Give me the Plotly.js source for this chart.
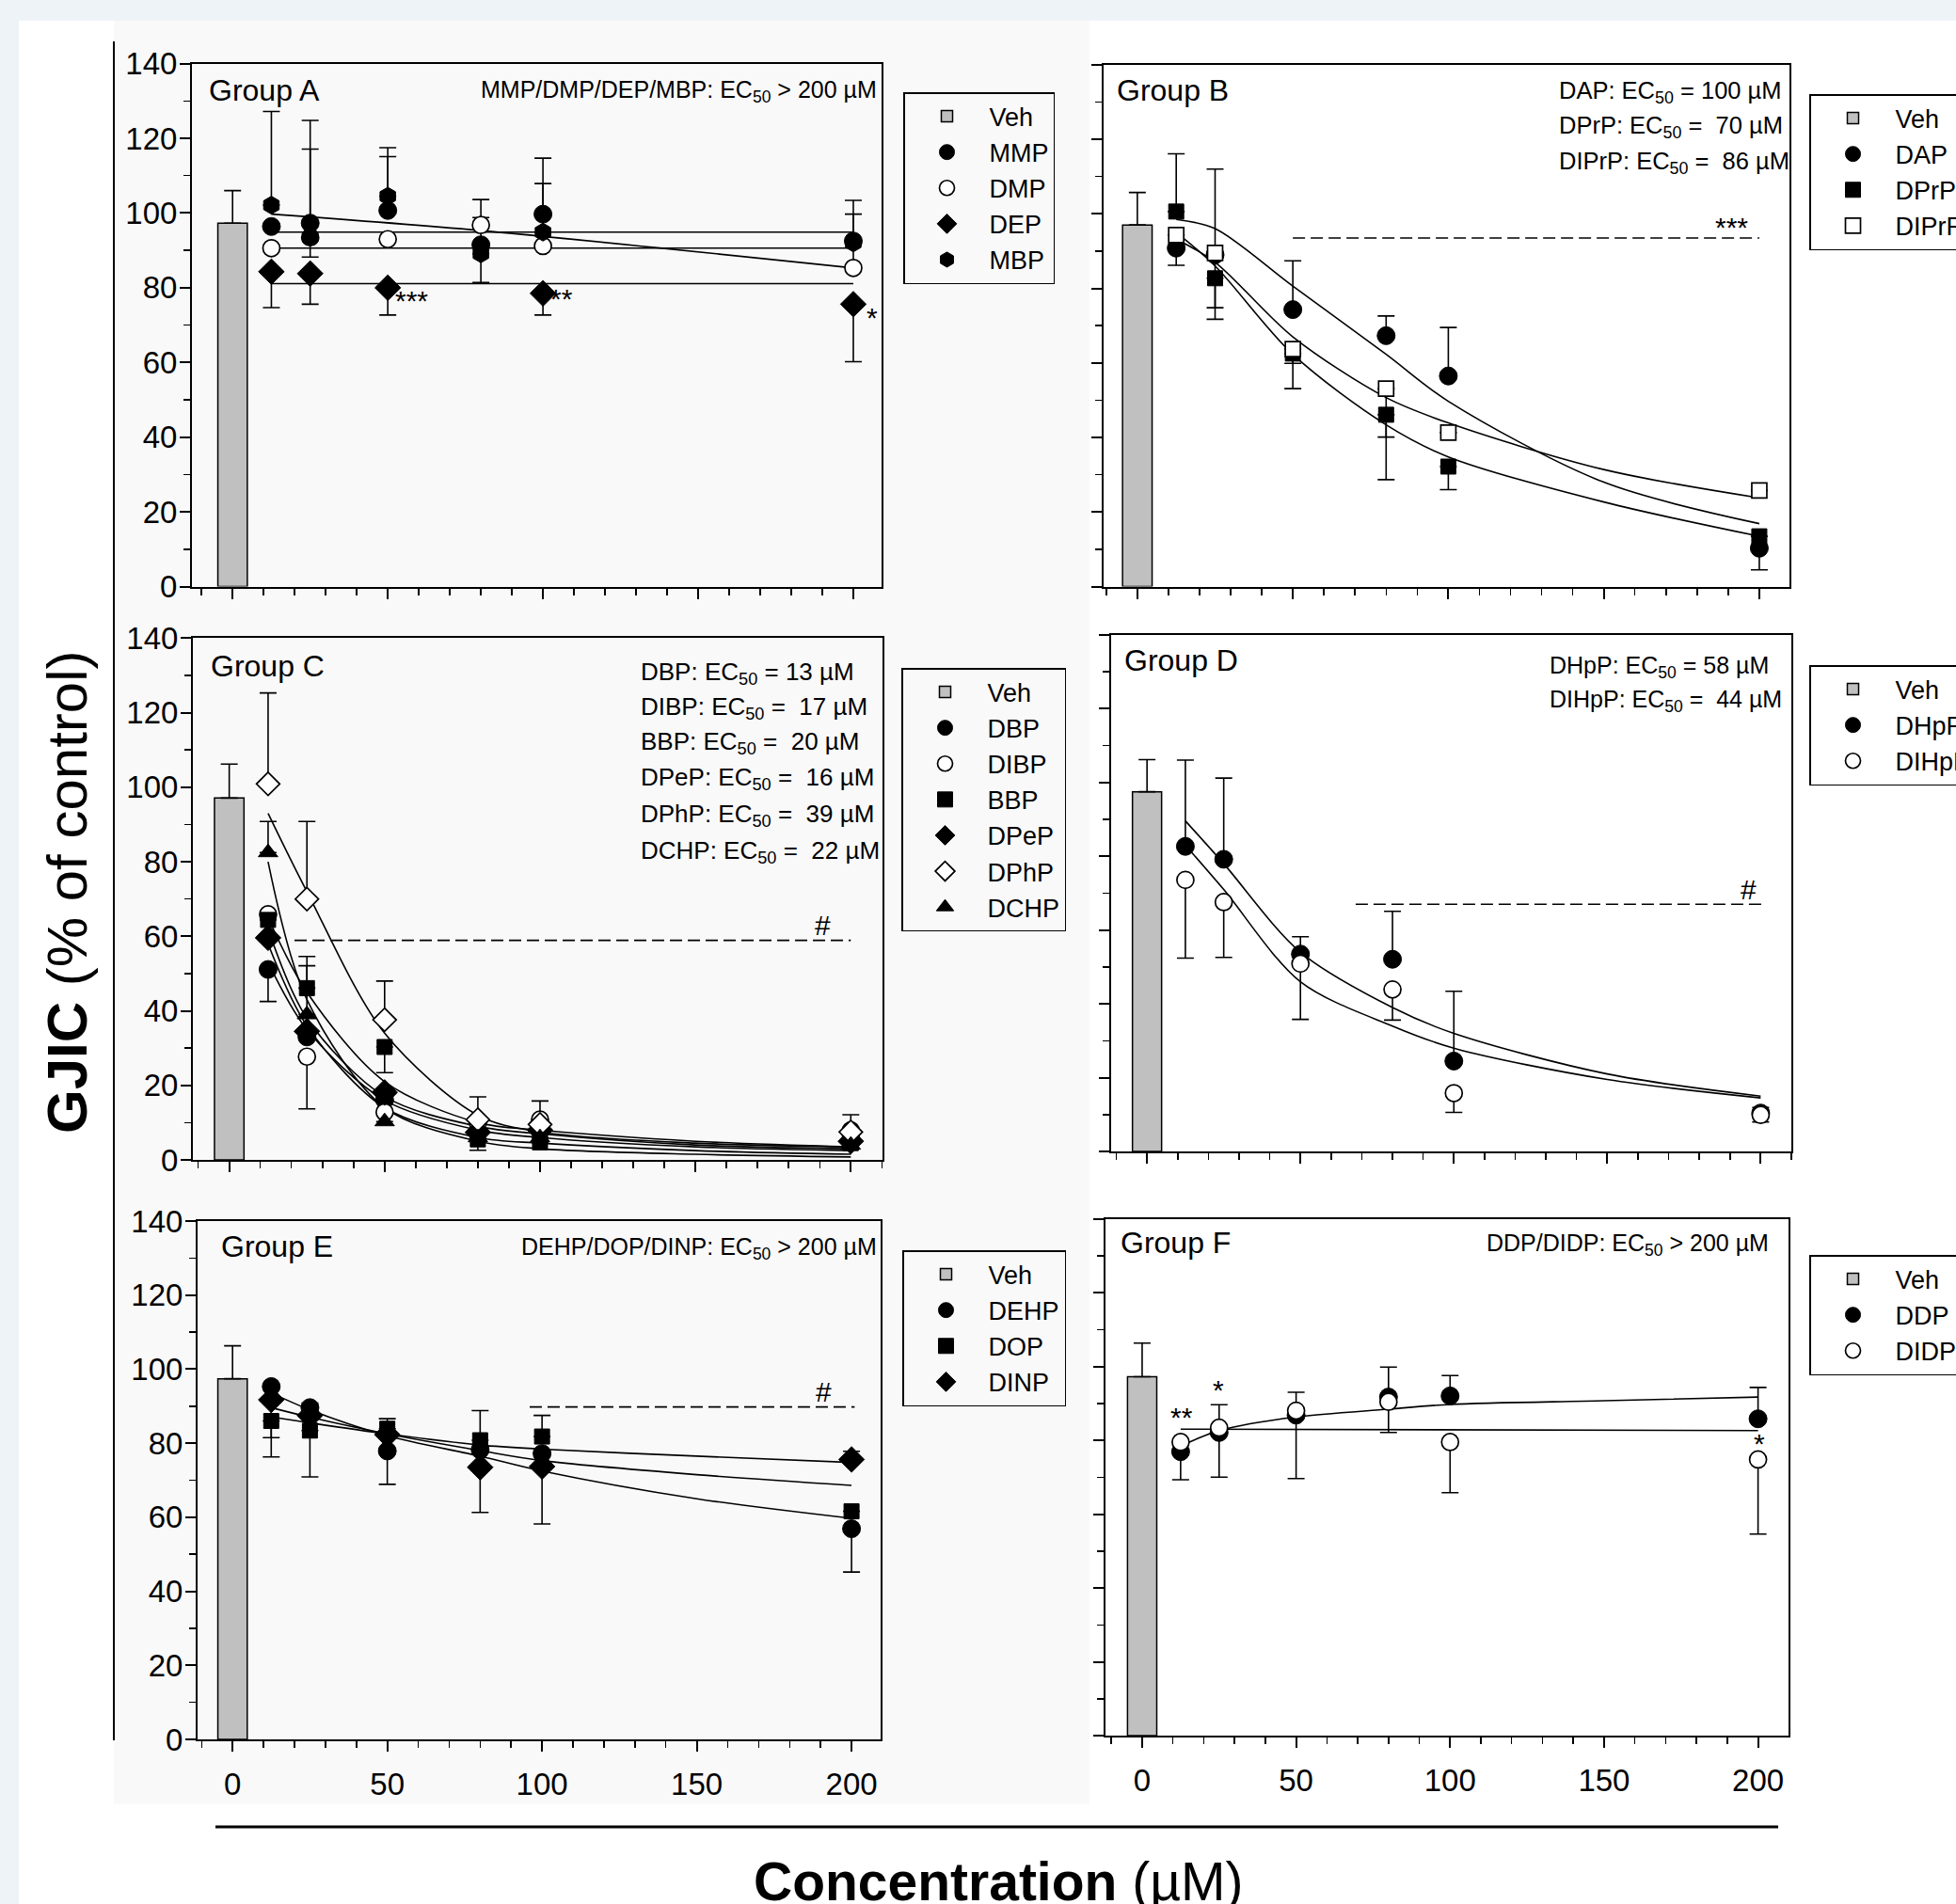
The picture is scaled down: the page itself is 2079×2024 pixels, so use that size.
<!DOCTYPE html>
<html><head><meta charset="utf-8">
<script src="https://cdn.plot.ly/plotly-3.0.1.min.js"></script>
<style>html,body{margin:0;padding:0;background:#fff;}#chart{width:2079px;height:2024px;}</style>
</head><body><div id="chart"></div>
<script>
// ---------------- data ----------------
const conc = [12.5, 25, 50, 80, 100, 200];
const fitX = [12.5, 25, 50, 80, 100, 150, 200];
const vehX = [0];

// Group A
const vehA = [97.3], vehAUp = [8.7];
const mmpY = [96.4, 97.3, 100.7, 91.5, 99.7, 92.5], mmpUp = [0, 27.5, 14.4, 7.3, 15, 10.9], mmpDn = [0, 0, 0, 0, 0, 0];
const dmpY = [90.6, 93.5, 93.0, 96.8, 91.2, 85.3], dmpUp = [0, 0, 0, 6.8, 0, 14.4], dmpDn = [0, 5.3, 0, 0, 0, 0];
const depY = [84.3, 83.8, 80.0, null, 78.5, 75.6], depUp = [0, 0, 0, 0, 0, 0], depDn = [9.6, 8.2, 7.3, 0, 5.8, 15.4];
const mbpY = [102.1, 93.5, 104.5, 89.1, 94.9, 92.0], mbpUp = [25.1, 23.6, 13.0, 0, 13.0, 0], mbpDn = [0, 0, 0, 7.7, 0, 0];
const fitA1X = [12.5, 80, 200], fitA1 = [99.7, 95.3, 85.3];
const fitFlatX = [12.5, 200];
const fitA2 = [94.9, 94.9], fitA3 = [90.6, 90.6], fitA4 = [81.1, 81.1];

// Group B
const vehB = [97.0], vehBUp = [8.7];
const dapY = [90.8, 89.0, 74.3, 67.3, 56.5, 10.3], dapUp = [0, 0, 13.1, 5.3, 13.0, 0], dapDn = [4.6, 14.2, 0, 0, 0, 5.8];
const dprpY = [100.6, 82.7, 62.5, 46.1, 32.2, 13.5], dprpUp = [15.5, 0, 0, 0, 0, 0], dprpDn = [0, 11.0, 9.4, 17.4, 6.2, 0];
const diprpY = [94.3, 89.5, 63.7, 53.1, 41.3, 25.8], diprpUp = [0, 22.5, 0, 0, 0, 0], diprpDn = [0, 0, 3.8, 13.0, 0, 0];
const fitDAP = [98.5, 96, 80.6, 62.3, 49.7, 28, 16.9];
const fitDPrP = [95, 86, 62.3, 43.4, 34.8, 22.7, 13.5];
const fitDIPrP = [93.2, 87, 67, 50.7, 43.9, 31.4, 23.8];
const dashBX = [50, 200], dashBY = [93.5, 93.5];

// Group C
const vehC = [97.1], vehCUp = [9.1];
const dbpY = [51.1, 33.0, 16.1, 7.4, 8.4, 7.0], dbpUp = [0, 0, 0, 0, 0, 0], dbpDn = [8.6, 0, 0, 0, 0, 0];
const dibpY = [65.9, 27.7, 12.8, 10.0, 10.8, 7.9], dibpUp = [0, 0, 0, 0, 5.0, 4.2], dibpDn = [0, 14.0, 0, 0, 0, 0];
const bbpY = [64.4, 46.1, 30.3, 5.5, 4.7, 4.5], bbpUp = [0, 8.5, 0, 0, 0, 0], bbpDn = [0, 0, 6.9, 2.9, 0, 0];
const depeY = [59.6, 34.5, 18.1, 7.4, 8.0, 5.0], depeUp = [0, 0, 0, 0, 0, 0], depeDn = [0, 0, 0, 0, 0, 0];
const dphpY = [100.9, 70.0, 37.6, 10.8, 9.5, 7.5], dphpUp = [24.4, 20.8, 10.4, 6.1, 0, 0], dphpDn = [0, 0, 0, 0, 0, 0];
const dchpY = [82.5, 39.0, 10.3, 6.0, 6.0, 4.0], dchpUp = [8.3, 13.1, 0, 0, 0, 0], dchpDn = [0, 0, 0, 0, 0, 0];
const fitDBP = [53, 35, 16, 8, 6, 3.5, 2.5];
const fitDIBP = [62, 38, 17, 9, 7, 4, 3];
const fitBBP = [65, 45, 21, 10, 8, 5, 3.5];
const fitDPeP = [58, 36, 14, 6, 4.5, 2.5, 1.5];
const fitDPhP = [93, 72, 34, 12, 7.5, 4.5, 3.5];
const fitDCHP = [80, 43, 14, 5, 3, 1.5, 0.8];
const dashCX = [21, 200], dashCY = [58.9, 58.9];

// Group D
const vehD = [97.5], vehDUp = [8.7];
const dhppY = [82.7, 79.2, 53.5, 52.1, 24.5, 10.4], dhppUp = [23.4, 22.0, 4.7, 13.0, 18.9, 1.5], dhppDn = [0, 0, 0, 0, 0, 0];
const dihppY = [73.6, 67.6, 50.9, 43.9, 15.8, 9.9], dihppUp = [0, 0, 0, 0, 0, 0], dihppDn = [21.2, 15.0, 15.1, 8.3, 5.2, 1.9];
const fitDHpP = [89.6, 78, 54, 39, 32, 21, 15];
const fitDIHpP = [83, 71, 46, 34, 28, 19.5, 14.5];
const dashDX = [68, 202], dashDY = [67, 67];

// Group E
const vehE = [97.4], vehEUp = [8.9];
const dehpY = [95.3, 89.6, 77.9, 78.2, 77.2, 56.9], dehpUp = [0, 1.2, 0, 0, 0, 0], dehpDn = [0, 0, 9.0, 0, 0, 11.7];
const dopY = [86.0, 83.4, 83.9, 80.8, 81.8, 61.6], dopUp = [0, 0, 2.7, 8.0, 5.7, 0], dopDn = [4.5, 12.5, 0, 0, 0, 0];
const dinpY = [91.7, 87.5, 82.3, 73.5, 73.7, 75.6], dinpUp = [0, 0, 0, 0, 0, 2.2], dinpDn = [15.4, 0, 0, 12.2, 15.5, 0];
const fitDEHP = [93.6, 89, 82, 76.5, 72.5, 65, 59.7];
const fitDOP = [89.6, 87, 82.5, 78, 75.3, 71.5, 68.6];
const fitDINP = [87.1, 85.5, 82.5, 79.5, 78.4, 76.5, 74.8];
const dashEX = [96, 201], dashEY = [89.8, 89.8];

// Group F
const vehF = [97.2], vehFUp = [9.1];
const ddpY = [76.9, 82.1, 86.8, 91.7, 92.0, 85.8], ddpUp = [0, 7.5, 6.2, 8.1, 5.5, 8.5], ddpDn = [7.6, 0, 0, 0, 0, 0];
const didpY = [79.5, 83.4, 88.0, 90.4, 79.5, 74.8], didpUp = [0, 0, 0, 0, 0, 0], didpDn = [0, 13.4, 18.4, 8.3, 13.7, 20.2];
const fitDDP = [78.4, 82.6, 86.3, 88.4, 89.7, 90.7, 91.7];
const fitDIDP = [83, 82.6];

// ---------------- helpers ----------------
const FONT = 'Liberation Sans, Arial, Helvetica, sans-serif';
const W = 2079, H = 2024;
const px = v => v / W, py = v => 1 - v / H;

function veh(y, up, n, lg) {
  return {type: 'bar', name: 'Veh', x: vehX, y: y, width: [9.5], xaxis: 'x' + n, yaxis: 'y' + n, legend: lg,
    marker: {color: '#c0c0c0', line: {color: 'black', width: 1.5}},
    error_y: {type: 'data', symmetric: false, array: up, arrayminus: [0], color: 'black', thickness: 1.6, width: 9},
    hoverinfo: 'skip'};
}
function pts(name, y, up, dn, sym, fill, size, n, lg) {
  return {type: 'scatter', mode: 'markers', name: name, x: conc, y: y, xaxis: 'x' + n, yaxis: 'y' + n, legend: lg,
    marker: {symbol: sym, color: fill, size: size, line: {color: 'black', width: fill === 'white' ? 1.7 : 1}},
    error_y: {type: 'data', symmetric: false, array: up, arrayminus: dn, color: 'black', thickness: 1.6, width: 9},
    cliponaxis: false, hoverinfo: 'skip'};
}
function curve(x, y, n, dash) {
  return {type: 'scatter', mode: 'lines', x: x, y: y, xaxis: 'x' + n, yaxis: 'y' + n, showlegend: false,
    line: {color: 'black', width: dash ? 1.7 : 1.6, shape: dash ? 'linear' : 'spline', smoothing: 0.9, dash: dash ? '13px,6px' : 'solid'},
    hoverinfo: 'skip'};
}

const data = [
  // A
  veh(vehA, vehAUp, '', 'legend'),
  curve(fitA1X, fitA1, ''), curve(fitFlatX, fitA2, ''), curve(fitFlatX, fitA3, ''), curve(fitFlatX, fitA4, ''),
  pts('MMP', mmpY, mmpUp, mmpDn, 'circle', 'black', 19, '', 'legend'),
  pts('DMP', dmpY, dmpUp, dmpDn, 'circle', 'white', 18, '', 'legend'),
  pts('DEP', depY, depUp, depDn, 'diamond', 'black', 21, '', 'legend'),
  pts('MBP', mbpY, mbpUp, mbpDn, 'hexagon', 'black', 19, '', 'legend'),
  // B
  veh(vehB, vehBUp, '2', 'legend2'),
  curve(dashBX, dashBY, '2', true),
  curve(fitX, fitDAP, '2'), curve(fitX, fitDPrP, '2'), curve(fitX, fitDIPrP, '2'),
  pts('DAP', dapY, dapUp, dapDn, 'circle', 'black', 19, '2', 'legend2'),
  pts('DPrP', dprpY, dprpUp, dprpDn, 'square', 'black', 16, '2', 'legend2'),
  pts('DIPrP', diprpY, diprpUp, diprpDn, 'square', 'white', 16, '2', 'legend2'),
  // C
  veh(vehC, vehCUp, '3', 'legend3'),
  curve(dashCX, dashCY, '3', true),
  curve(fitX, fitDBP, '3'), curve(fitX, fitDIBP, '3'), curve(fitX, fitBBP, '3'),
  curve(fitX, fitDPeP, '3'), curve(fitX, fitDPhP, '3'), curve(fitX, fitDCHP, '3'),
  pts('DBP', dbpY, dbpUp, dbpDn, 'circle', 'black', 19, '3', 'legend3'),
  pts('DIBP', dibpY, dibpUp, dibpDn, 'circle', 'white', 18, '3', 'legend3'),
  pts('BBP', bbpY, bbpUp, bbpDn, 'square', 'black', 16, '3', 'legend3'),
  pts('DPeP', depeY, depeUp, depeDn, 'diamond', 'black', 21, '3', 'legend3'),
  pts('DPhP', dphpY, dphpUp, dphpDn, 'diamond', 'white', 19, '3', 'legend3'),
  pts('DCHP', dchpY, dchpUp, dchpDn, 'triangle-up', 'black', 18, '3', 'legend3'),
  // D
  veh(vehD, vehDUp, '4', 'legend4'),
  curve(dashDX, dashDY, '4', true),
  curve(fitX, fitDHpP, '4'), curve(fitX, fitDIHpP, '4'),
  pts('DHpP', dhppY, dhppUp, dhppDn, 'circle', 'black', 19, '4', 'legend4'),
  pts('DIHpP', dihppY, dihppUp, dihppDn, 'circle', 'white', 18, '4', 'legend4'),
  // E
  veh(vehE, vehEUp, '5', 'legend5'),
  curve(dashEX, dashEY, '5', true),
  curve(fitX, fitDEHP, '5'), curve(fitX, fitDOP, '5'), curve(fitX, fitDINP, '5'),
  pts('DEHP', dehpY, dehpUp, dehpDn, 'circle', 'black', 19, '5', 'legend5'),
  pts('DOP', dopY, dopUp, dopDn, 'square', 'black', 16, '5', 'legend5'),
  pts('DINP', dinpY, dinpUp, dinpDn, 'diamond', 'black', 21, '5', 'legend5'),
  // F
  veh(vehF, vehFUp, '6', 'legend6'),
  curve(fitX, fitDDP, '6'), curve(fitFlatX, fitDIDP, '6'),
  pts('DDP', ddpY, ddpUp, ddpDn, 'circle', 'black', 19, '6', 'legend6'),
  pts('DIDP', didpY, didpUp, didpDn, 'circle', 'white', 18, '6', 'legend6')
];

// ---------------- layout ----------------
const panels = [
  {n: '',  x: [204, 937],    y: [67.6, 623.6],  xr: [-13.1, 209.1], yl: true,  xl: false},
  {n: '2', x: [1172.5, 1902], y: [68.7, 623.6], xr: [-11.0, 209.7], yl: false, xl: false},
  {n: '3', x: [205, 938],    y: [678.4, 1233],  xr: [-11.7, 210.2], yl: true,  xl: false},
  {n: '4', x: [1181, 1904],  y: [675, 1224],    xr: [-11.7, 210.0], yl: false, xl: false},
  {n: '5', x: [210, 936],    y: [1298, 1849],   xr: [-11.3, 209.4], yl: true,  xl: true},
  {n: '6', x: [1175, 1901],  y: [1295.5, 1845], xr: [-11.9, 209.9], yl: false, xl: true}
];

const layout = {
  width: W, height: H,
  margin: {l: 0, r: 0, t: 0, b: 0, autoexpand: false},
  paper_bgcolor: 'white', plot_bgcolor: 'rgba(0,0,0,0)',
  font: {family: FONT, color: 'black'},
  showlegend: true, bargap: 0,
  annotations: [], shapes: []
};

panels.forEach(p => {
  layout['xaxis' + p.n] = {
    domain: [px(p.x[0]), px(p.x[1])], range: p.xr, anchor: 'y' + p.n,
    showgrid: false, zeroline: false, showline: true, mirror: true, linecolor: 'black', linewidth: 2,
    ticks: 'outside', ticklen: 11, tickwidth: 2, tickcolor: 'black',
    tickmode: 'linear', tick0: 0, dtick: 50, showticklabels: p.xl, ticklabelstandoff: 6,
    tickfont: {family: FONT, size: 33, color: 'black'},
    minor: {ticks: 'outside', ticklen: 7, tickwidth: 1.5, tickcolor: 'black', dtick: 10, tick0: 0, showgrid: false}
  };
  layout['yaxis' + p.n] = {
    domain: [py(p.y[1]), py(p.y[0])], range: [0, 140], anchor: 'x' + p.n,
    showgrid: false, zeroline: false, showline: true, mirror: true, linecolor: 'black', linewidth: 2,
    ticks: 'outside', ticklen: 11, tickwidth: 2, tickcolor: 'black',
    tickmode: 'linear', tick0: 0, dtick: 20, showticklabels: p.yl, ticklabelstandoff: -4,
    tickfont: {family: FONT, size: 33, color: 'black'},
    minor: {ticks: 'outside', ticklen: 7, tickwidth: 1.5, tickcolor: 'black', dtick: 10, tick0: 0, showgrid: false}
  };
});

function lg(x, y) {
  return {x: px(x), y: py(y), xref: 'paper', yref: 'paper', xanchor: 'left', yanchor: 'top',
    bgcolor: 'rgba(0,0,0,0)', bordercolor: 'black', borderwidth: 1.5,
    font: {family: FONT, size: 27, color: 'black'}, itemwidth: 80, traceorder: 'normal', tracegroupgap: 0};
}
layout.legend = lg(960, 98);
layout.legend2 = lg(1923, 100);
layout.legend3 = lg(958, 710);
layout.legend4 = lg(1923, 707);
layout.legend5 = lg(959, 1329);
layout.legend6 = lg(1923, 1334);

// background frame and guide lines
layout.shapes.push(
  {type: 'rect', xref: 'paper', yref: 'paper', x0: 0, x1: 1, y0: py(22), y1: 1, fillcolor: '#eef3f8', line: {width: 0}, layer: 'below'},
  {type: 'rect', xref: 'paper', yref: 'paper', x0: 0, x1: px(20), y0: 0, y1: 1, fillcolor: '#eef3f8', line: {width: 0}, layer: 'below'},
  {type: 'rect', xref: 'paper', yref: 'paper', x0: px(121), x1: px(1158), y0: py(1918), y1: py(22), fillcolor: '#f9f9f9', line: {width: 0}, layer: 'below'},
  {type: 'line', xref: 'paper', yref: 'paper', x0: px(121), x1: px(121), y0: py(44), y1: py(1850), line: {color: 'black', width: 2}},
  {type: 'line', xref: 'paper', yref: 'paper', x0: px(229), x1: px(1890), y0: py(1942), y1: py(1942), line: {color: 'black', width: 3}}
);

function txt(text, x, y, anchor, size) {
  layout.annotations.push({text: text, xref: 'paper', yref: 'paper', x: px(x), y: py(y), xanchor: anchor || 'left', yanchor: 'middle',
    showarrow: false, font: {family: FONT, size: size || 25, color: 'black'}});
}
function mark(text, n, x, y, xanchor, xshift, yshift) {
  layout.annotations.push({text: text, xref: 'x' + n, yref: 'y' + n, x: x, y: y, xanchor: xanchor || 'center', yanchor: 'middle',
    xshift: xshift || 0, yshift: yshift || 0, showarrow: false, font: {family: FONT, size: 30, color: 'black'}});
}
const EC = 'EC<sub>50</sub>';
const nb = '\u00a0';

txt('Group A', 220, 95.5, 'left', 32);
txt('MMP/DMP/DEP/MBP: ' + EC + ' > 200 µM', 934, 97, 'right', 25);
txt('Group B', 1185, 96, 'left', 32);
txt('DAP: ' + EC + ' = 100 µM', 1655, 98, 'left', 25.5);
txt('DPrP: ' + EC + ' = ' + nb + '70 µM', 1655, 135, 'left', 25.5);
txt('DIPrP: ' + EC + ' = ' + nb + '86 µM', 1655, 173, 'left', 25.5);
txt('Group C', 222, 708, 'left', 32);
txt('DBP: ' + EC + ' = 13 µM', 679, 715, 'left', 26);
txt('DIBP: ' + EC + ' = ' + nb + '17 µM', 679, 752, 'left', 26);
txt('BBP: ' + EC + ' = ' + nb + '20 µM', 679, 789, 'left', 26);
txt('DPeP: ' + EC + ' = ' + nb + '16 µM', 679, 827, 'left', 26);
txt('DPhP: ' + EC + ' = ' + nb + '39 µM', 679, 866, 'left', 26);
txt('DCHP: ' + EC + ' = ' + nb + '22 µM', 679, 905, 'left', 26);
txt('Group D', 1193, 702, 'left', 32);
txt('DHpP: ' + EC + ' = 58 µM', 1645, 709, 'left', 25);
txt('DIHpP: ' + EC + ' = ' + nb + '44 µM', 1645, 745, 'left', 25);
txt('Group E', 233, 1325, 'left', 32);
txt('DEHP/DOP/DINP: ' + EC + ' > 200 µM', 934, 1327, 'right', 25);
txt('Group F', 1189, 1321, 'left', 32);
txt('DDP/DIDP: ' + EC + ' > 200 µM', 1882, 1323, 'right', 25);

// significance marks
mark('***', '', 50, 76.5, 'left', 6);
mark('**', '', 100, 77.2, 'left', 6);
mark('*', '', 203.5, 72, 'left', 0);
mark('***', '2', 191, 96.5);
mark('#', '3', 191, 63);
mark('#', '4', 196, 71);
mark('#', '5', 191, 94);
mark('**', '6', 12.8, 86.3);
mark('*', '6', 24.9, 93.6);
mark('*', '6', 200.4, 79.2);

// axis titles
layout.annotations.push({text: '<b>GJIC</b> (% of control)', xref: 'paper', yref: 'paper', x: px(72), y: py(948),
  xanchor: 'center', yanchor: 'middle', textangle: -90, showarrow: false, font: {family: FONT, size: 60, color: 'black'}});
layout.annotations.push({text: '<b>Concentration</b> (µM)', xref: 'paper', yref: 'paper', x: px(1061), y: py(2000),
  xanchor: 'center', yanchor: 'middle', showarrow: false, font: {family: FONT, size: 57, color: 'black'}});

Plotly.newPlot('chart', data, layout, {staticPlot: true, displayModeBar: false});
</script>
</body></html>
